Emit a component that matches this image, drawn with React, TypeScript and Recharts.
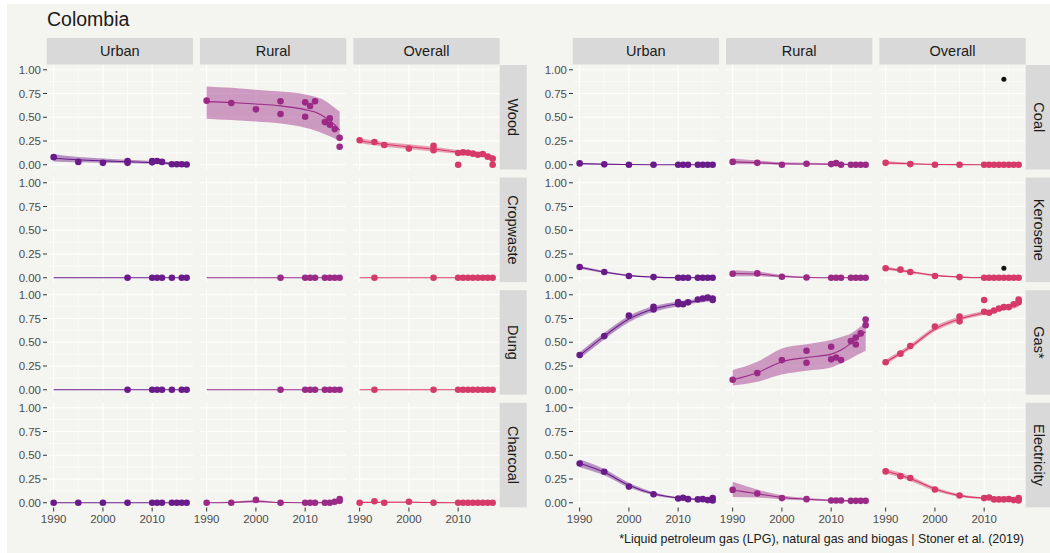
import React from 'react'
import { ComposedChart, Area, Line, Scatter, XAxis, YAxis, CartesianGrid } from 'recharts'

type Pt = [number, number]
type Fit = [number, number, number, number] // year, fit, lower, upper

const FONT = '"Liberation Sans", Arial, Helvetica, sans-serif'
const BG = '#f4f4f0'
const STRIP = '#d9d9d9'

const areas = ['Urban', 'Rural', 'Overall'] as const
const colours: Record<string, string> = { Urban: '#6a1b8a', Rural: '#9b2a87', Overall: '#d63a69' }

const leftFuels = ['Wood', 'Cropwaste', 'Dung', 'Charcoal']
const rightFuels = ['Coal', 'Kerosene', 'Gas*', 'Electricity']

const xTicks = [1990, 2000, 2010]
const xMinor = [1995, 2005, 2015]
const yTicks = [0, 0.25, 0.5, 0.75, 1]
const yMinor = [0.125, 0.375, 0.625, 0.875]

const title = 'Colombia'
const caption = '*Liquid petroleum gas (LPG), natural gas and biogas | Stoner et al. (2019)'

const zeros = (years: number[]): Pt[] => years.map((y) => [y, 0])
const flatFit: Fit[] = [[1990, 0, 0, 0], [2017, 0, 0, 0]]

const urbanYears = [2010, 2011, 2012, 2014, 2015, 2016, 2017]
const overallLate = [2010, 2011, 2012, 2013, 2014, 2015, 2016, 2017]

// ---- observations ----
const woodPoints: Record<string, Pt[]> = {
  Urban: [[1990, 0.08], [1995, 0.03], [2000, 0.02], [2005, 0.04], [2005, 0.02], [2010, 0.04], [2010, 0.025], [2011, 0.04], [2012, 0.03], [2014, 0.005], [2015, 0.005], [2016, 0.005], [2017, 0.003]],
  Rural: [[1990, 0.675], [1995, 0.65], [2000, 0.583], [2005, 0.668], [2005, 0.534], [2010, 0.657], [2010, 0.505], [2011, 0.618], [2012, 0.668], [2014, 0.449], [2015, 0.488], [2015, 0.42], [2016, 0.375], [2017, 0.283], [2017, 0.19]],
  Overall: [[1990, 0.258], [1993, 0.24], [1995, 0.208], [2000, 0.17], [2005, 0.2], [2005, 0.152], [2010, 0.124], [2010, 0.0], [2011, 0.13], [2012, 0.127], [2013, 0.117], [2014, 0.106], [2015, 0.113], [2016, 0.085], [2017, 0.064], [2017, 0.0]],
}
const cropwastePoints: Record<string, Pt[]> = {
  Urban: zeros([2005, 2010, 2011, 2012, 2014, 2016, 2017]),
  Rural: zeros([2005, 2010, 2011, 2012, 2014, 2015, 2016, 2017]),
  Overall: zeros([1993, 2005, ...overallLate]),
}
const dungPoints: Record<string, Pt[]> = {
  Urban: zeros([2005, 2010, 2011, 2012, 2014, 2016, 2017]),
  Rural: zeros([2005, 2010, 2011, 2012, 2014, 2015, 2016, 2017]),
  Overall: zeros([1993, 2005, ...overallLate]),
}
const charcoalPoints: Record<string, Pt[]> = {
  Urban: zeros([1990, 1995, 2000, 2005, ...urbanYears]),
  Rural: [[1990, 0], [1995, 0], [2000, 0.03], [2005, 0], [2010, 0], [2011, 0], [2012, 0], [2014, 0], [2015, 0], [2016, 0.01], [2017, 0.04], [2017, 0.02]],
  Overall: [[1990, 0], [1993, 0.015], [1995, 0], [2000, 0.01], [2005, 0], ...zeros(overallLate)],
}
const coalPoints: Record<string, Pt[]> = {
  Urban: [[1990, 0.014], [1995, 0.004], [2000, 0], [2005, 0], ...zeros(urbanYears)],
  Rural: [[1990, 0.03], [1995, 0.02], [2000, 0], [2005, 0.01], [2010, 0.007], [2011, 0.017], [2012, 0], [2014, 0], [2015, 0], [2016, 0], [2017, 0]],
  Overall: [[1990, 0.02], [1995, 0.007], [2000, 0], [2005, 0], ...zeros(overallLate)],
}
const kerosenePoints: Record<string, Pt[]> = {
  Urban: [[1990, 0.113], [1995, 0.06], [2000, 0.018], [2005, 0.007], ...zeros(urbanYears)],
  Rural: [[1990, 0.042], [1995, 0.046], [2000, 0.01], [2005, 0.003], ...zeros(urbanYears)],
  Overall: [[1990, 0.1], [1993, 0.085], [1995, 0.06], [2000, 0.018], [2005, 0.007], ...zeros(overallLate)],
}
const gasPoints: Record<string, Pt[]> = {
  Urban: [[1990, 0.365], [1995, 0.565], [2000, 0.78], [2005, 0.874], [2005, 0.845], [2010, 0.923], [2010, 0.9], [2011, 0.9], [2012, 0.92], [2014, 0.95], [2015, 0.96], [2016, 0.97], [2017, 0.96], [2017, 0.944]],
  Rural: [[1990, 0.105], [1995, 0.175], [2000, 0.312], [2005, 0.41], [2005, 0.284], [2010, 0.453], [2010, 0.32], [2011, 0.34], [2012, 0.312], [2014, 0.512], [2015, 0.55], [2015, 0.477], [2016, 0.593], [2017, 0.74], [2017, 0.68]],
  Overall: [[1990, 0.29], [1993, 0.38], [1995, 0.46], [2000, 0.665], [2005, 0.77], [2005, 0.72], [2010, 0.945], [2010, 0.82], [2011, 0.81], [2012, 0.835], [2013, 0.856], [2014, 0.87], [2015, 0.87], [2016, 0.9], [2017, 0.95], [2017, 0.92]],
}
const electricityPoints: Record<string, Pt[]> = {
  Urban: [[1990, 0.413], [1995, 0.326], [2000, 0.17], [2005, 0.09], [2010, 0.045], [2011, 0.052], [2012, 0.038], [2014, 0.035], [2015, 0.038], [2016, 0.028], [2017, 0.049], [2017, 0.024]],
  Rural: [[1990, 0.135], [1995, 0.097], [2000, 0.049], [2005, 0.038], [2010, 0.024], [2011, 0.024], [2012, 0.024], [2014, 0.02], [2015, 0.02], [2016, 0.02], [2017, 0.02]],
  Overall: [[1990, 0.33], [1993, 0.28], [1995, 0.26], [2000, 0.14], [2005, 0.076], [2010, 0.049], [2011, 0.055], [2012, 0.035], [2013, 0.035], [2014, 0.035], [2015, 0.038], [2016, 0.028], [2017, 0.049], [2017, 0.024]],
}

// highlighted (black) observations in the Overall column
const coalFlagged: Pt[] = [[2014, 0.9]]
const keroseneFlagged: Pt[] = [[2014, 0.1]]

// ---- smoothed fits with uncertainty band ----
const woodFits: Record<string, Fit[]> = {
  Urban: [[1990, 0.068, 0.035, 0.11], [1995, 0.052, 0.027, 0.082], [2000, 0.041, 0.02, 0.066], [2005, 0.032, 0.015, 0.052], [2010, 0.023, 0.01, 0.04], [2014, 0.012, 0.0, 0.028], [2017, 0.006, 0.0, 0.022]],
  Rural: [[1990, 0.665, 0.485, 0.825], [1995, 0.655, 0.47, 0.81], [2000, 0.64, 0.455, 0.79], [2005, 0.62, 0.435, 0.77], [2010, 0.58, 0.39, 0.74], [2012, 0.555, 0.36, 0.715], [2014, 0.5, 0.32, 0.675], [2016, 0.42, 0.275, 0.6], [2017, 0.365, 0.25, 0.56]],
  Overall: [[1990, 0.25, 0.225, 0.28], [1995, 0.215, 0.19, 0.24], [2000, 0.19, 0.165, 0.215], [2005, 0.165, 0.14, 0.19], [2010, 0.135, 0.115, 0.155], [2012, 0.125, 0.105, 0.145], [2014, 0.11, 0.09, 0.13], [2016, 0.09, 0.07, 0.11], [2017, 0.075, 0.05, 0.1]],
}
const cropwasteFits: Record<string, Fit[]> = { Urban: flatFit, Rural: flatFit, Overall: flatFit }
const dungFits: Record<string, Fit[]> = { Urban: flatFit, Rural: flatFit, Overall: flatFit }
const charcoalFits: Record<string, Fit[]> = {
  Urban: flatFit,
  Rural: [[1990, 0, 0, 0.005], [1995, 0.003, 0, 0.01], [2000, 0.015, 0, 0.03], [2005, 0.002, 0, 0.006], [2010, 0, 0, 0.002], [2014, 0.001, 0, 0.005], [2016, 0.01, 0, 0.02], [2017, 0.02, 0.005, 0.035]],
  Overall: [[1990, 0.003, 0, 0.012], [1995, 0.006, 0, 0.012], [2000, 0.005, 0, 0.012], [2005, 0.002, 0, 0.006], [2010, 0, 0, 0], [2017, 0, 0, 0]],
}
const coalFits: Record<string, Fit[]> = {
  Urban: [[1990, 0.012, 0.005, 0.02], [1995, 0.006, 0, 0.012], [2000, 0.002, 0, 0.005], [2005, 0, 0, 0], [2017, 0, 0, 0]],
  Rural: [[1990, 0.03, 0.005, 0.065], [1995, 0.022, 0.005, 0.045], [2000, 0.01, 0, 0.025], [2005, 0.008, 0, 0.02], [2010, 0.006, 0, 0.015], [2014, 0.002, 0, 0.008], [2017, 0, 0, 0.005]],
  Overall: [[1990, 0.02, 0.005, 0.04], [1995, 0.01, 0, 0.02], [2000, 0.003, 0, 0.008], [2005, 0.001, 0, 0.004], [2010, 0, 0, 0], [2017, 0, 0, 0]],
}
const keroseneFits: Record<string, Fit[]> = {
  Urban: [[1990, 0.11, 0.095, 0.125], [1995, 0.06, 0.05, 0.07], [2000, 0.022, 0.015, 0.03], [2005, 0.007, 0.002, 0.012], [2010, 0.001, 0, 0.004], [2017, 0, 0, 0]],
  Rural: [[1990, 0.045, 0.015, 0.08], [1995, 0.04, 0.015, 0.065], [2000, 0.015, 0.003, 0.03], [2005, 0.003, 0, 0.01], [2010, 0, 0, 0.003], [2017, 0, 0, 0]],
  Overall: [[1990, 0.1, 0.085, 0.115], [1995, 0.062, 0.05, 0.074], [2000, 0.025, 0.015, 0.035], [2005, 0.007, 0.002, 0.012], [2010, 0.001, 0, 0.004], [2017, 0, 0, 0]],
}
const gasFits: Record<string, Fit[]> = {
  Urban: [[1990, 0.36, 0.325, 0.395], [1995, 0.565, 0.53, 0.6], [2000, 0.745, 0.71, 0.78], [2005, 0.85, 0.82, 0.88], [2010, 0.905, 0.88, 0.93], [2012, 0.92, 0.9, 0.945], [2014, 0.935, 0.915, 0.955], [2016, 0.95, 0.93, 0.97], [2017, 0.955, 0.935, 0.975]],
  Rural: [[1990, 0.105, 0.046, 0.207], [1995, 0.18, 0.084, 0.295], [2000, 0.295, 0.16, 0.435], [2005, 0.34, 0.2, 0.48], [2010, 0.375, 0.235, 0.523], [2012, 0.418, 0.28, 0.555], [2014, 0.488, 0.33, 0.593], [2016, 0.575, 0.385, 0.665], [2017, 0.61, 0.41, 0.705]],
  Overall: [[1990, 0.29, 0.265, 0.315], [1995, 0.45, 0.425, 0.475], [2000, 0.64, 0.615, 0.665], [2005, 0.745, 0.725, 0.77], [2010, 0.81, 0.79, 0.83], [2012, 0.835, 0.815, 0.855], [2014, 0.855, 0.835, 0.875], [2016, 0.88, 0.855, 0.9], [2017, 0.895, 0.87, 0.92]],
}
const electricityFits: Record<string, Fit[]> = {
  Urban: [[1990, 0.415, 0.375, 0.455], [1995, 0.32, 0.29, 0.355], [2000, 0.185, 0.16, 0.21], [2005, 0.095, 0.08, 0.11], [2010, 0.05, 0.04, 0.06], [2014, 0.035, 0.025, 0.045], [2017, 0.03, 0.015, 0.045]],
  Rural: [[1990, 0.135, 0.06, 0.22], [1995, 0.095, 0.055, 0.14], [2000, 0.055, 0.035, 0.08], [2005, 0.038, 0.025, 0.05], [2010, 0.025, 0.015, 0.035], [2014, 0.021, 0.01, 0.03], [2017, 0.02, 0.005, 0.035]],
  Overall: [[1990, 0.335, 0.31, 0.36], [1995, 0.255, 0.23, 0.28], [2000, 0.145, 0.125, 0.165], [2005, 0.075, 0.06, 0.09], [2010, 0.048, 0.038, 0.058], [2014, 0.035, 0.025, 0.045], [2017, 0.032, 0.02, 0.045]],
}

const pointsByFuel: Record<string, Record<string, Pt[]>> = {
  Wood: woodPoints, Cropwaste: cropwastePoints, Dung: dungPoints, Charcoal: charcoalPoints,
  Coal: coalPoints, Kerosene: kerosenePoints, 'Gas*': gasPoints, Electricity: electricityPoints,
}
const fitsByFuel: Record<string, Record<string, Fit[]>> = {
  Wood: woodFits, Cropwaste: cropwasteFits, Dung: dungFits, Charcoal: charcoalFits,
  Coal: coalFits, Kerosene: keroseneFits, 'Gas*': gasFits, Electricity: electricityFits,
}
const flaggedByFuel: Record<string, Pt[]> = { Coal: coalFlagged, Kerosene: keroseneFlagged }

// layout (px)
const PANEL_W = 146.3
const PANEL_H = 104.5
const ROW_STEP = 112.6
const TOP0 = 65
const STRIP_TOP = 38
const STRIP_H = 26.5
const STRIP_W = 27
const GROUP_X = [
  [46.7, 200, 353.4],
  [572.7, 726, 879.4],
]
const YW = 40
const XH = 26
const PAD = 16 // room for x tick labels that spill past the panel edge

const dot = (fill: string, r: number) => (p: any) =>
  p.cx == null ? <g /> : <circle cx={p.cx} cy={p.cy} r={r} fill={fill} />

function Panel({ fuel, area, left, top, showY, showX }: {
  fuel: string; area: string; left: number; top: number; showY: boolean; showX: boolean
}) {
  const colour = colours[area]
  const rows = fitsByFuel[fuel][area].map(([year, fit, lo, hi]) => ({ year, fit, band: [lo, hi] }))
  const pts = pointsByFuel[fuel][area].map(([year, value]) => ({ year, value }))
  const flagged = area === 'Overall' ? flaggedByFuel[fuel] : undefined
  const padL = showY ? 0 : showX ? PAD : 0
  const padR = showX ? PAD : 0
  const yw = showY ? YW : 0
  const w = PANEL_W + yw + padL + padR
  const h = PANEL_H + (showX ? XH : 0)
  const tickStyle = { fontSize: 11.5, fill: '#4d4d4d', fontFamily: FONT }
  return (
    <div style={{ position: 'absolute', left: left - yw - padL, top, width: w, height: h }}>
      <ComposedChart width={w} height={h} data={rows} margin={{ top: 0, right: padR, bottom: 0, left: padL }}>
        <CartesianGrid stroke="#ffffff" strokeWidth={0.55} horizontalValues={yMinor} verticalValues={xMinor} />
        <CartesianGrid stroke="#ffffff" strokeWidth={1.1} horizontalValues={yTicks} verticalValues={xTicks} />
        <XAxis
          dataKey="year"
          type="number"
          domain={[1988.65, 2018.35]}
          ticks={xTicks}
          interval={0}
          allowDataOverflow
          hide={!showX}
          height={XH}
          axisLine={false}
          tickLine={{ stroke: '#333333' }}
          tickSize={4}
          tickMargin={3}
          tick={tickStyle}
        />
        <YAxis
          type="number"
          domain={[-0.05, 1.05]}
          ticks={yTicks}
          interval={0}
          allowDataOverflow
          hide={!showY}
          width={YW}
          axisLine={false}
          tickLine={{ stroke: '#333333' }}
          tickSize={4}
          tickMargin={2}
          tick={tickStyle}
          tickFormatter={(v: number) => v.toFixed(2)}
        />
        <Area dataKey="band" type="monotone" fill={colour} fillOpacity={0.45} stroke="none" isAnimationActive={false} />
        <Line dataKey="fit" type="monotone" stroke={colour} strokeWidth={1.1} dot={false} isAnimationActive={false} />
        <Scatter data={pts} dataKey="value" fill={colour} shape={dot(colour, 3.3)} isAnimationActive={false} />
        {flagged && (
          <Scatter
            data={flagged.map(([year, value]) => ({ year, value }))}
            dataKey="value"
            fill="#111111"
            shape={dot('#111111', 2.5)}
            isAnimationActive={false}
          />
        )}
      </ComposedChart>
    </div>
  )
}

export default function App() {
  const groups = [leftFuels, rightFuels]
  return (
    <div style={{ position: 'fixed', left: 0, top: 0, width: 1050, height: 553, background: '#ffffff', overflow: 'hidden' }}>
      <div style={{ position: 'absolute', left: 7, top: 4, width: 1043, height: 549, background: BG }} />
      {groups.map((fuels, g) =>
        fuels.map((fuel, r) =>
          areas.map((area, c) => (
            <Panel
              key={`${g}-${fuel}-${area}`}
              fuel={fuel}
              area={area}
              left={GROUP_X[g][c]}
              top={TOP0 + r * ROW_STEP}
              showY={c === 0}
              showX={r === fuels.length - 1}
            />
          ))
        )
      )}
      <svg width={1050} height={553} style={{ position: 'absolute', left: 0, top: 0, pointerEvents: 'none' }} fontFamily={FONT}>
        <text x={47} y={26} fontSize={19.5} fill="#1a1a1a">{title}</text>
        {GROUP_X.map((xs, g) =>
          xs.map((x, c) => (
            <g key={`strip-${g}-${c}`}>
              <rect x={x} y={STRIP_TOP} width={PANEL_W} height={STRIP_H} fill={STRIP} />
              <text x={x + PANEL_W / 2} y={STRIP_TOP + STRIP_H / 2 + 5} fontSize={14.5} fill="#1a1a1a" textAnchor="middle">
                {areas[c]}
              </text>
            </g>
          ))
        )}
        {groups.map((fuels, g) =>
          fuels.map((fuel, r) => {
            const x = GROUP_X[g][2] + PANEL_W
            const y = TOP0 + r * ROW_STEP
            return (
              <g key={`rstrip-${g}-${r}`}>
                <rect x={x} y={y} width={STRIP_W} height={PANEL_H} fill={STRIP} />
                <text
                  transform={`translate(${x + STRIP_W / 2},${y + PANEL_H / 2}) rotate(90)`}
                  x={0}
                  y={5}
                  fontSize={14.5}
                  fill="#1a1a1a"
                  textAnchor="middle"
                >
                  {fuel}
                </text>
              </g>
            )
          })
        )}
        <text x={1024} y={543} fontSize={12.4} fill="#1a1a1a" textAnchor="end">{caption}</text>
      </svg>
    </div>
  )
}
